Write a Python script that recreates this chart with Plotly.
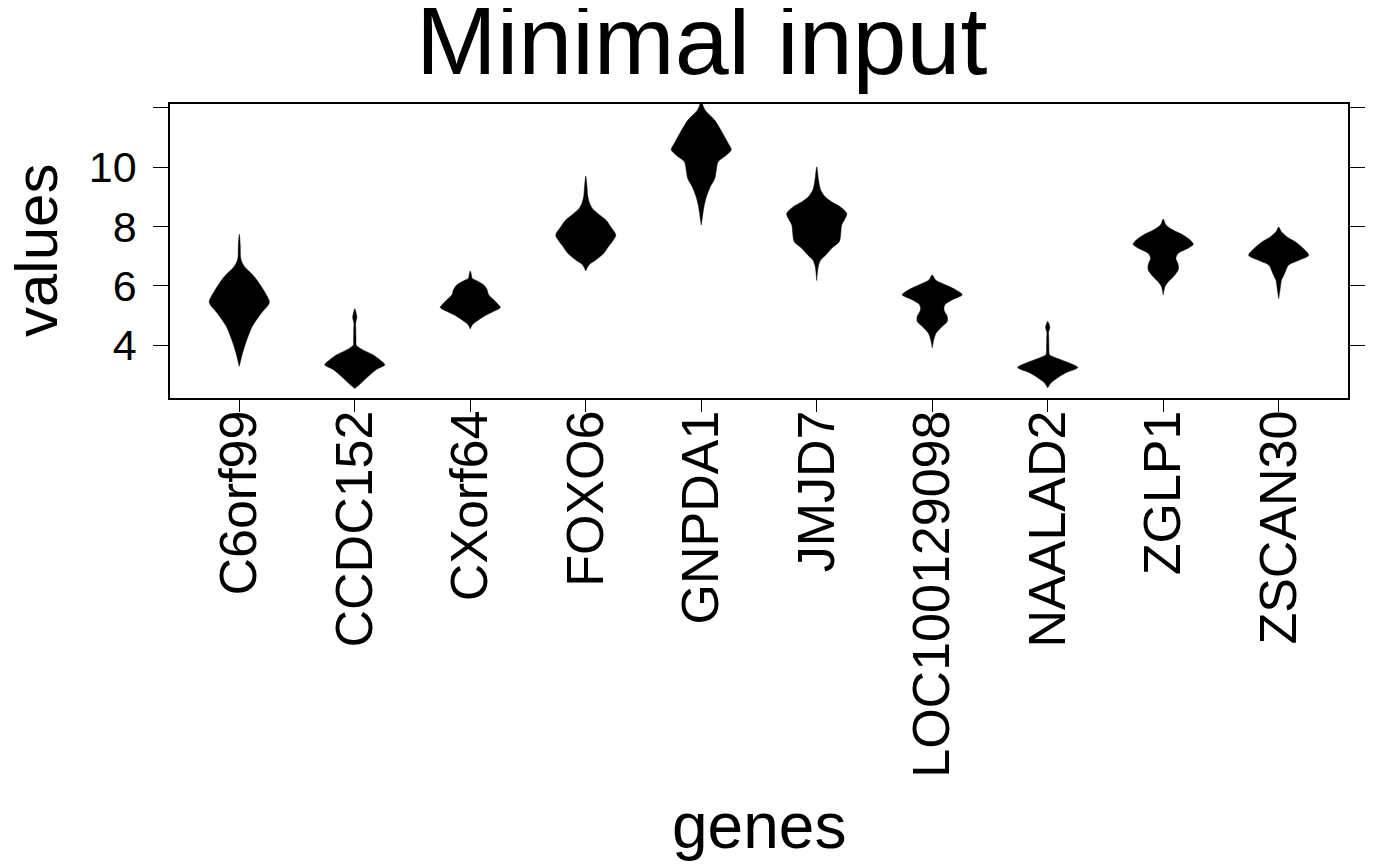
import plotly.graph_objects as go

# ---- data (violin outlines: value levels and relative half-widths) ----
genes = ["C6orf99", "CCDC152", "CXorf64", "FOXO6", "GNPDA1",
         "JMJD7", "LOC100129098", "NAALAD2", "ZGLP1", "ZSCAN30"]

c6orf99_y = [7.74, 7.4, 7.0, 6.87, 6.65, 6.31, 5.87, 5.44, 5.08, 4.63, 4.18, 3.74, 3.29]
c6orf99_w = [0, 0.03, 0.04, 0.06, 0.17, 0.5, 0.8, 1.0, 0.73, 0.43, 0.25, 0.11, 0]

ccdc152_y = [5.23, 5.1, 4.93, 4.75, 4.5, 4.2, 4.0, 3.9, 3.8, 3.68, 3.51, 3.34, 3.18, 2.95, 2.73, 2.58, 2.54]
ccdc152_w = [0, 0.04, 0.07, 0.03, 0.035, 0.04, 0.05, 0.17, 0.35, 0.6, 0.83, 1.0, 0.72, 0.45, 0.22, 0.05, 0]

cxorf64_y = [6.50, 6.35, 6.26, 6.14, 6.03, 5.87, 5.70, 5.53, 5.36, 5.27, 5.14, 4.97, 4.80, 4.69, 4.55]
cxorf64_w = [0, 0.04, 0.06, 0.28, 0.45, 0.56, 0.61, 0.78, 0.94, 1.0, 0.78, 0.45, 0.2, 0.07, 0]

foxo6_y = [9.70, 9.34, 9.0, 8.78, 8.61, 8.44, 8.22, 7.99, 7.71, 7.49, 7.32, 7.10, 6.87, 6.71, 6.5]
foxo6_w = [0, 0.04, 0.07, 0.13, 0.22, 0.4, 0.67, 0.83, 1.0, 0.88, 0.75, 0.6, 0.33, 0.11, 0]

gnpda1_y = [12.3, 12.1, 11.92, 11.58, 11.13, 10.80, 10.59, 10.40, 10.18, 9.90, 9.62, 9.34, 9.0, 8.67, 8.33, 8.05]
gnpda1_w = [0, 0.05, 0.13, 0.45, 0.72, 0.9, 1.0, 0.83, 0.56, 0.5, 0.45, 0.3, 0.17, 0.09, 0.04, 0]

jmjd7_y = [10.01, 9.56, 9.23, 9.0, 8.83, 8.67, 8.44, 8.28, 8.05, 7.77, 7.49, 7.27, 7.04, 6.87, 6.65, 6.18]
jmjd7_w = [0, 0.06, 0.13, 0.28, 0.5, 0.78, 1.0, 0.95, 0.83, 0.8, 0.75, 0.5, 0.3, 0.13, 0.05, 0]

loc_y = [6.37, 6.20, 6.03, 5.87, 5.70, 5.53, 5.36, 5.19, 4.97, 4.80, 4.63, 4.41, 4.18, 3.91]
loc_w = [0, 0.11, 0.45, 0.78, 1.0, 0.67, 0.42, 0.39, 0.5, 0.5, 0.33, 0.13, 0.05, 0]

naalad2_y = [4.80, 4.70, 4.58, 4.45, 4.2, 3.9, 3.68, 3.57, 3.40, 3.25, 3.07, 2.90, 2.73, 2.56]
naalad2_w = [0, 0.05, 0.07, 0.03, 0.035, 0.04, 0.06, 0.28, 0.72, 1.0, 0.6, 0.33, 0.11, 0]

zglp1_y = [8.25, 8.05, 7.88, 7.71, 7.55, 7.40, 7.27, 7.10, 6.93, 6.71, 6.54, 6.37, 6.14, 5.98, 5.70]
zglp1_w = [0, 0.09, 0.33, 0.67, 0.89, 1.0, 0.83, 0.5, 0.42, 0.5, 0.5, 0.39, 0.17, 0.06, 0]

zscan30_y = [7.98, 7.82, 7.65, 7.48, 7.25, 7.03, 6.86, 6.70, 6.53, 6.36, 6.19, 5.91, 5.57]
zscan30_w = [0, 0.09, 0.28, 0.56, 0.83, 1.0, 0.67, 0.33, 0.24, 0.17, 0.09, 0.05, 0]

y_tick_vals = [4, 6, 8, 10, 12]
y_tick_text = ["4", "6", "8", "10", ""]

profiles = [
    (c6orf99_y, c6orf99_w), (ccdc152_y, ccdc152_w), (cxorf64_y, cxorf64_w),
    (foxo6_y, foxo6_w), (gnpda1_y, gnpda1_w), (jmjd7_y, jmjd7_w),
    (loc_y, loc_w), (naalad2_y, naalad2_w), (zglp1_y, zglp1_w),
    (zscan30_y, zscan30_w),
]

HALF = 0.26  # max half-width in category units
FONT = "Liberation Sans, Arial, Helvetica, sans-serif"

fig = go.Figure()
for i, (ys, ws) in enumerate(profiles):
    pos = i + 1
    xs = [pos + HALF * w for w in ws] + [pos - HALF * w for w in reversed(ws)]
    yy = list(ys) + list(reversed(ys))
    fig.add_trace(go.Scatter(
        x=xs, y=yy, mode="lines", fill="toself", fillcolor="black",
        line=dict(color="black", width=0.5, shape="spline", smoothing=0.8),
        hoverinfo="skip", showlegend=False,
    ))

fig.update_layout(
    width=1400, height=866,
    margin=dict(l=162, r=60, t=96, b=476),
    paper_bgcolor="white", plot_bgcolor="white",
    font=dict(family=FONT, color="black"),
    showlegend=False,
)

fig.update_xaxes(
    range=[0.4, 10.6], tickmode="array",
    tickvals=list(range(1, len(genes) + 1)), ticktext=genes,
    tickangle=-90, ticks="outside", ticklen=12, tickwidth=1.3, tickcolor="black",
    tickfont=dict(size=52, family=FONT), ticklabelstandoff=-22,
    showline=True, linecolor="black", linewidth=1.5, mirror=True,
    showgrid=False, zeroline=False,
)
fig.update_yaxes(
    range=[2.22, 12.13], tickmode="array",
    tickvals=y_tick_vals, ticktext=y_tick_text,
    ticks="outside", ticklen=15, tickwidth=1.3, tickcolor="black",
    tickfont=dict(size=43, family=FONT), ticklabelstandoff=8,
    showline=True, linecolor="black", linewidth=1.5, mirror="allticks",
    showgrid=False, zeroline=False,
)

fig.add_annotation(text="Minimal input", xref="paper", yref="paper",
                   x=(701 - 170) / 1178, y=(398 - 40) / 294,
                   xanchor="center", yanchor="middle", showarrow=False,
                   font=dict(size=97, family=FONT, color="black"))
fig.add_annotation(text="values", xref="paper", yref="paper",
                   x=(36 - 170) / 1178, y=0.5, textangle=-90,
                   xanchor="center", yanchor="middle", showarrow=False,
                   font=dict(size=60, family=FONT, color="black"))
fig.add_annotation(text="genes", xref="paper", yref="paper",
                   x=0.5, y=(398 - 826) / 294,
                   xanchor="center", yanchor="middle", showarrow=False,
                   font=dict(size=64, family=FONT, color="black"))

fig.write_html("out.html")
